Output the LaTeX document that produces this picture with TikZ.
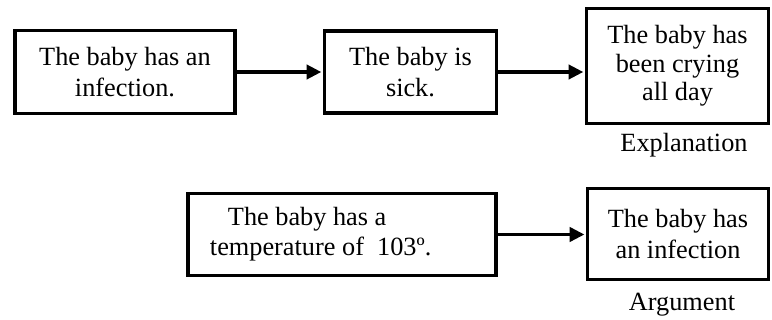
\documentclass[tikz,border=0pt]{standalone}
\usepackage{fontspec}
\setmainfont{Liberation Serif}
\usetikzlibrary{arrows.meta}
\tikzset{
  claim/.style={draw, line width=2.4pt, align=center, inner sep=0pt,
    font=\fontsize{18.7}{21.5}\selectfont},
  link/.style={line width=2.6pt, -{Triangle[length=10.5pt,width=10pt]}, shorten >=1pt},
  kind/.style={font=\fontsize{18.7}{21.5}\selectfont}
}
\begin{document}
\begin{tikzpicture}[x=0.025cm,y=-0.025cm]
\useasboundingbox (0,0) rectangle (772,320);

        % explanation chain
        \node[claim, minimum width=5.5cm, minimum height=2.07cm] (infect) at (125,72) {The baby has an\\infection.};
        \node[claim, minimum width=4.3cm, minimum height=2.05cm] (sick) at (410.5,72) {The baby is\\sick.};
        \node[claim, font=\fontsize{18.7}{20.3}\selectfont, minimum width=4.55cm, minimum height=2.87cm] (crying) at (677.5,66) {The baby has\\been crying\\all day};
        \node[kind] (explain) at (684,145) {Explanation};
                \draw[link] (infect.east) -- (infect.east -| sick.west);
                \draw[link] (sick.east) -- (sick.east -| crying.west);

        % argument
        \node[claim, align=flush left, text width=6.6cm, inner xsep=0.55cm, minimum height=2.05cm] (temp) at (342,234.5)
                {\hspace*{0.45cm}The baby has a\\temperature of \ 103º.};
        \node[claim, minimum width=4.52cm, minimum height=2.27cm] (infect2) at (678,234) {The baby has\\an infection};
        \node[kind] (argue) at (682,305) {Argument};
                \draw[link] (temp.east) -- (temp.east -| infect2.west);

\end{tikzpicture}
\end{document}
